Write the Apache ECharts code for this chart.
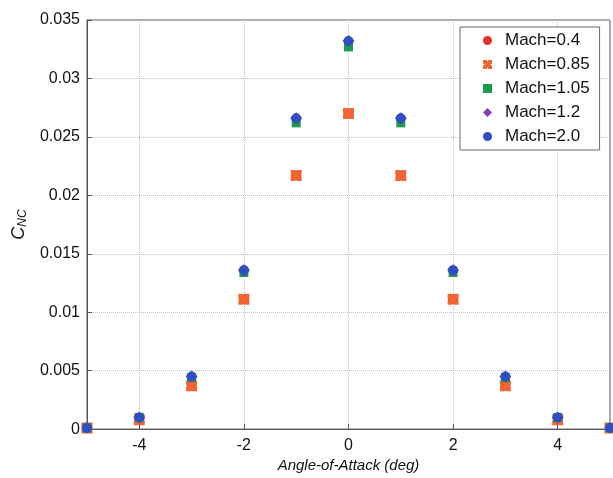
<!DOCTYPE html>
<html>
<head>
<meta charset="utf-8">
<title>CNC vs Angle-of-Attack</title>
<script src="https://cdn.jsdelivr.net/npm/echarts@6/dist/echarts.min.js"></script>
<style>
  html, body { margin: 0; height: 100%; background: #fff; }
  #main { width: 613px; height: 478px; }
</style>
</head>
<body>
<div id="main"></div>
<script>
// angle of attack (deg)
var alpha = [-5, -4, -3, -2, -1, 0, 1, 2, 3, 4, 5];
// C_NC for each Mach number
var mach04  = [0.0001, 0.0008, 0.0037, 0.0111, 0.0217, 0.0270, 0.0217, 0.0111, 0.0037, 0.0008, 0.0001];
var mach085 = [0.0001, 0.0008, 0.0037, 0.0111, 0.0217, 0.0270, 0.0217, 0.0111, 0.0037, 0.0008, 0.0001];
var mach105 = [0.0001, 0.0010, 0.0044, 0.0134, 0.0262, 0.0327, 0.0262, 0.0134, 0.0044, 0.0010, 0.0001];
var mach12  = [0.0001, 0.0010, 0.0045, 0.0136, 0.0266, 0.0332, 0.0266, 0.0136, 0.0045, 0.0010, 0.0001];
var mach20  = [0.0001, 0.0010, 0.0045, 0.0136, 0.0266, 0.0332, 0.0266, 0.0136, 0.0045, 0.0010, 0.0001];
var xTicks = [-4, -2, 0, 2, 4];

function pairs(ys) {
  var out = [];
  for (var i = 0; i < alpha.length; i++) out.push([alpha[i], ys[i]]);
  return out;
}

// notched square, like the plotted "x" marker
var xMark = 'path://M0,0 L4,0 L5,2 L6,0 L10,0 L10,4 L8,5 L10,6 L10,10 L6,10 L5,8 L4,10 L0,10 L0,6 L2,5 L0,4 Z';

function scat(name, ys, symbol, size, color) {
  return {
    name: name,
    type: 'scatter',
    data: pairs(ys),
    symbol: symbol,
    symbolSize: size,
    clip: false,
    itemStyle: { color: color, opacity: 1 }
  };
}

var myChart = echarts.init(document.getElementById('main'));
var option = {
  animation: false,
  backgroundColor: '#fff',
  textStyle: { fontFamily: 'Liberation Sans, Arial, sans-serif' },
  grid: {
    left: 87, right: 3, top: 20, bottom: 46,
    show: true, borderColor: '#555', borderWidth: 1
  },
  xAxis: {
    type: 'value',
    min: -5, max: 5,
    name: 'Angle-of-Attack (deg)',
    nameLocation: 'middle',
    nameGap: 28,
    nameTextStyle: { fontSize: 15, fontStyle: 'italic', color: '#111' },
    axisLine: { onZero: false, lineStyle: { color: '#555' } },
    axisTick: { inside: true, length: 5, customValues: xTicks, lineStyle: { color: '#555' } },
    axisLabel: { customValues: xTicks, fontSize: 16, color: '#111', margin: 8 },
    splitLine: { show: true, lineStyle: { color: '#b8c0c8', type: 'dotted', width: 1 } }
  },
  yAxis: {
    type: 'value',
    min: 0, max: 0.035, interval: 0.005,
    name: '{c|C}{s|NC}',
    nameLocation: 'middle',
    nameRotate: 90,
    nameGap: 56,
    nameTextStyle: {
      rich: {
        c: { fontSize: 18, fontStyle: 'italic', color: '#111' },
        s: { fontSize: 12, fontStyle: 'italic', color: '#111', verticalAlign: 'bottom', padding: [8, 0, 0, 0] }
      }
    },
    axisLine: { show: true, onZero: false, lineStyle: { color: '#555' } },
    axisTick: { show: true, inside: true, length: 5, lineStyle: { color: '#555' } },
    axisLabel: { fontSize: 16, color: '#111', margin: 7 },
    splitLine: { show: true, lineStyle: { color: '#b8c0c8', type: 'dotted', width: 1 } }
  },
  legend: {
    orient: 'vertical',
    left: 460, top: 27,
    width: 142,
    padding: [5, 10, 5, 23],
    itemGap: 7,
    itemWidth: 9, itemHeight: 9,
    borderColor: '#666', borderWidth: 1,
    backgroundColor: '#fff',
    textStyle: { fontSize: 17, color: '#111', padding: [0, 0, 0, 8] },
    data: ['Mach=0.4', 'Mach=0.85', 'Mach=1.05', 'Mach=1.2', 'Mach=2.0']
  },
  series: [
    scat('Mach=0.4', mach04, 'circle', 10, '#e8302c'),
    scat('Mach=0.85', mach085, xMark, 11, '#f26430'),
    scat('Mach=1.05', mach105, 'rect', 9, '#1d9a4c'),
    scat('Mach=1.2', mach12, 'diamond', 12, '#8a3cb8'),
    scat('Mach=2.0', mach20, 'circle', 10, '#2d50c0')
  ]
};
myChart.setOption(option);
</script>
</body>
</html>
